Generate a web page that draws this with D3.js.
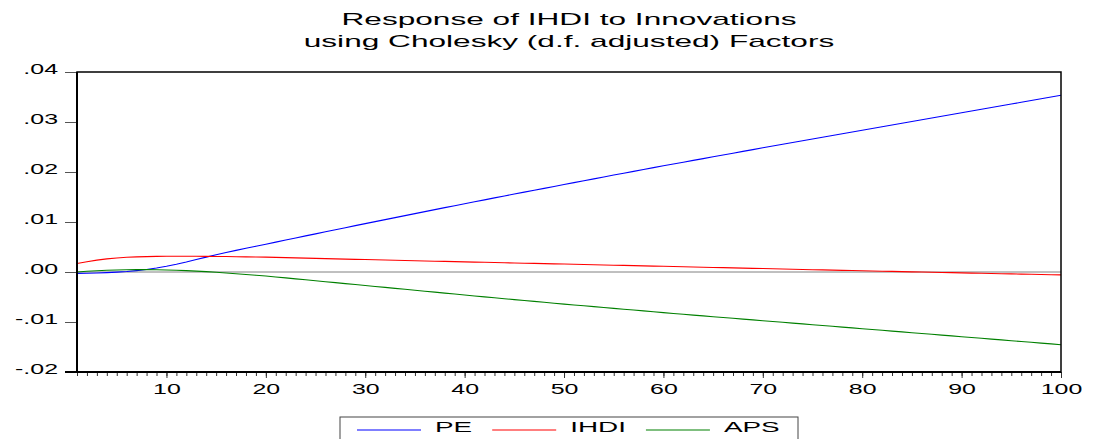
<!DOCTYPE html>
<html>
<head>
<meta charset="utf-8">
<script src="https://cdn.jsdelivr.net/npm/d3@7"></script>
<style>
  body { margin: 0; background: #fff; }
  text { font-family: "Liberation Sans", Arial, sans-serif; fill: #000; }
</style>
</head>
<body>
<div id="chart"></div>
<script>
// impulse horizon, periods 1..100
const periods = d3.range(1, 101);

const pe = [
  -0.00027, -0.00025, -0.00020, -0.00012, -0.00002, 0.00010, 0.00028, 0.00050, 0.00080, 0.00115,
  0.00155, 0.00200, 0.00250, 0.00298, 0.00345, 0.00390, 0.00433, 0.00475, 0.00515, 0.00555,
  0.00597, 0.00639, 0.00681, 0.00722, 0.00763, 0.00804, 0.00845, 0.00886, 0.00927, 0.00968,
  0.01008, 0.01048, 0.01088, 0.01128, 0.01168, 0.01208, 0.01248, 0.01287, 0.01326, 0.01365,
  0.01404, 0.01443, 0.01482, 0.01521, 0.01559, 0.01597, 0.01635, 0.01673, 0.01711, 0.01749,
  0.01787, 0.01825, 0.01863, 0.01901, 0.01939, 0.01976, 0.02013, 0.02050, 0.02087, 0.02124,
  0.02160, 0.02196, 0.02232, 0.02268, 0.02304, 0.02340, 0.02376, 0.02412, 0.02448, 0.02484,
  0.02519, 0.02554, 0.02589, 0.02624, 0.02659, 0.02694, 0.02729, 0.02764, 0.02799, 0.02834,
  0.02869, 0.02904, 0.02939, 0.02974, 0.03009, 0.03044, 0.03079, 0.03114, 0.03149, 0.03184,
  0.03219, 0.03254, 0.03289, 0.03324, 0.03359, 0.03394, 0.03429, 0.03464, 0.03499, 0.03534
];

const ihdi = [
  0.00170, 0.00205, 0.00237, 0.00262, 0.00281, 0.00294, 0.00302, 0.00308, 0.00312, 0.00314,
  0.00315, 0.00315, 0.00314, 0.00313, 0.00311, 0.00309, 0.00306, 0.00303, 0.00300, 0.00297,
  0.00292, 0.00287, 0.00282, 0.00277, 0.00272, 0.00268, 0.00263, 0.00258, 0.00253, 0.00249,
  0.00244, 0.00239, 0.00235, 0.00230, 0.00225, 0.00221, 0.00216, 0.00212, 0.00207, 0.00203,
  0.00198, 0.00194, 0.00189, 0.00185, 0.00180, 0.00176, 0.00172, 0.00167, 0.00163, 0.00159,
  0.00154, 0.00150, 0.00145, 0.00141, 0.00136, 0.00132, 0.00127, 0.00123, 0.00118, 0.00114,
  0.00109, 0.00105, 0.00100, 0.00096, 0.00091, 0.00087, 0.00082, 0.00078, 0.00073, 0.00069,
  0.00064, 0.00060, 0.00055, 0.00051, 0.00046, 0.00042, 0.00038, 0.00033, 0.00029, 0.00024,
  0.00020, 0.00016, 0.00012, 0.00008, 0.00003, -0.00001, -0.00005, -0.00009, -0.00013, -0.00018,
  -0.00022, -0.00026, -0.00030, -0.00034, -0.00038, -0.00042, -0.00046, -0.00050, -0.00054, -0.00058
];

const aps = [
  0.00000, 0.00014, 0.00026, 0.00035, 0.00041, 0.00045, 0.00047, 0.00047, 0.00045, 0.00041,
  0.00035, 0.00027, 0.00018, 0.00007, -0.00006, -0.00020, -0.00035, -0.00050, -0.00065, -0.00080,
  -0.00099, -0.00118, -0.00137, -0.00156, -0.00175, -0.00194, -0.00213, -0.00232, -0.00251, -0.00270,
  -0.00289, -0.00308, -0.00327, -0.00346, -0.00365, -0.00384, -0.00403, -0.00422, -0.00441, -0.00460,
  -0.00479, -0.00498, -0.00516, -0.00534, -0.00552, -0.00570, -0.00588, -0.00606, -0.00624, -0.00642,
  -0.00659, -0.00676, -0.00693, -0.00710, -0.00727, -0.00744, -0.00761, -0.00778, -0.00795, -0.00812,
  -0.00829, -0.00846, -0.00862, -0.00878, -0.00894, -0.00910, -0.00926, -0.00942, -0.00958, -0.00974,
  -0.00990, -0.01006, -0.01022, -0.01038, -0.01054, -0.01070, -0.01086, -0.01102, -0.01118, -0.01134,
  -0.01150, -0.01166, -0.01182, -0.01198, -0.01214, -0.01230, -0.01246, -0.01262, -0.01278, -0.01294,
  -0.01310, -0.01326, -0.01342, -0.01358, -0.01374, -0.01390, -0.01406, -0.01422, -0.01438, -0.01454
];

const seriesNames = ['PE', 'IHDI', 'APS'];
const xTicks = [10, 20, 30, 40, 50, 60, 70, 80, 90, 100];
const yTicks = [-0.02, -0.01, 0, 0.01, 0.02, 0.03, 0.04];
const yTickLabels = ['-.02', '-.01', '.00', '.01', '.02', '.03', '.04'];
const titleLines = ['Response of IHDI to Innovations', 'using Cholesky (d.f. adjusted) Factors'];

const colors = ['#0000ff', '#ff0000', '#008000'];
const series = [pe, ihdi, aps];

const W = 1093, H = 439;
const margin = { top: 72, right: 32, bottom: 67, left: 77 };
const width = W - margin.left - margin.right;
const height = H - margin.top - margin.bottom;
const stretch = 1.86;     // text in the source is drawn wide
const tickStretch = 1.78;

const root = d3.select('#chart').append('svg')
  .attr('width', W).attr('height', H);

// title
root.selectAll('.title').data(titleLines).enter().append('text')
  .attr('text-anchor', 'middle')
  .attr('transform', (d, i) => `translate(${margin.left + width / 2},${25 + i * 22}) scale(${stretch},1)`)
  .style('font-size', '17px')
  .text(d => d);

const svg = root.append('g')
  .attr('transform', `translate(${margin.left},${margin.top})`);

const x = d3.scaleLinear().domain([1, 100]).range([0, width]);
const y = d3.scaleLinear().domain([-0.02, 0.04]).range([height, 0]);

// minor x ticks every period
const minor = svg.append('g').attr('transform', `translate(0,${height})`)
  .call(d3.axisBottom(x).tickValues(periods).tickSize(4).tickFormat(''));
minor.select('.domain').remove();
minor.selectAll('line').attr('stroke', '#333');

// major x ticks with labels
const xAxis = svg.append('g').attr('transform', `translate(0,${height})`)
  .call(d3.axisBottom(x).tickValues(xTicks).tickSize(6).tickFormat(d => d));
xAxis.select('.domain').remove();
xAxis.selectAll('line').attr('stroke', '#333');
xAxis.selectAll('text')
  .attr('y', null).attr('dy', null).attr('fill', '#000')
  .attr('transform', `translate(0,21.5) scale(${tickStretch},1)`)
  .style('font-size', '14px').style('font-family', '"Liberation Sans", Arial, sans-serif');

// y axis
const yAxis = svg.append('g')
  .call(d3.axisLeft(y).tickValues(yTicks).tickSize(12).tickFormat((d, i) => yTickLabels[i]));
yAxis.select('.domain').remove();
yAxis.selectAll('line').attr('stroke', '#555');
yAxis.selectAll('text')
  .attr('x', null).attr('dy', null).attr('fill', '#000')
  .attr('text-anchor', 'end')
  .attr('transform', `translate(-19,1) scale(${tickStretch},1)`)
  .style('font-size', '14px').style('font-family', '"Liberation Sans", Arial, sans-serif');

// zero line
svg.append('line')
  .attr('x1', 0).attr('x2', width)
  .attr('y1', y(0)).attr('y2', y(0))
  .attr('stroke', '#808080').attr('stroke-width', 1);

// series
const line = d3.line().x((d, i) => x(periods[i])).y(d => y(d));
svg.selectAll('.series').data(series).enter().append('path')
  .attr('d', d => line(d))
  .attr('fill', 'none')
  .attr('stroke', (d, i) => colors[i])
  .attr('stroke-width', 1.1);

// frame
svg.append('rect')
  .attr('x', 0).attr('y', 0).attr('width', width).attr('height', height)
  .attr('fill', 'none').attr('stroke', '#000').attr('stroke-width', 1.5);
svg.append('line').attr('x1', 0).attr('x2', 0).attr('y1', 0).attr('y2', height)
  .attr('stroke', '#000').attr('stroke-width', 2);
svg.append('line').attr('x1', -12).attr('x2', width).attr('y1', height).attr('y2', height)
  .attr('stroke', '#000').attr('stroke-width', 2);

// legend
const legend = root.append('g').attr('transform', 'translate(340,417)');
legend.append('rect')
  .attr('x', 0).attr('y', 0).attr('width', 458).attr('height', 30)
  .attr('fill', 'none').attr('stroke', '#444').attr('stroke-width', 1);

let lx = 17;
seriesNames.forEach((name, i) => {
  legend.append('line')
    .attr('x1', lx).attr('x2', lx + 64).attr('y1', 13).attr('y2', 13)
    .attr('stroke', colors[i]).attr('stroke-width', 1.1);
  const t = legend.append('text')
    .attr('transform', `translate(${lx + 78},15) scale(${stretch},1)`)
    .style('font-size', '15px')
    .text(name);
  lx += 78 + t.node().getComputedTextLength() * stretch + 20;
});
</script>
</body>
</html>
